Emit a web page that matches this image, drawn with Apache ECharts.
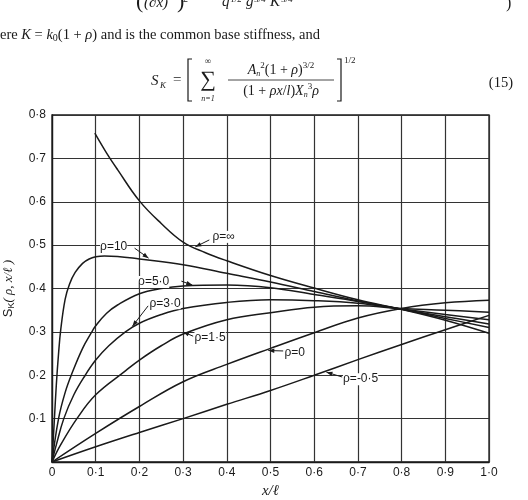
<!DOCTYPE html>
<html>
<head>
<meta charset="utf-8">
<script src="https://cdn.jsdelivr.net/npm/echarts@6.0.0/dist/echarts.min.js"></script>
<style>
  html, body { margin: 0; padding: 0; background: #fff; }
  #chart { width: 528px; height: 500px; }
</style>
</head>
<body>
<div id="chart"></div>
<script>
// tick labels
const xTickLabels = ['0', '0·1', '0·2', '0·3', '0·4', '0·5', '0·6', '0·7', '0·8', '0·9', '1·0'];
const yTickLabels = ['', '0·1', '0·2', '0·3', '0·4', '0·5', '0·6', '0·7', '0·8'];

// S_K(rho, x/l) curves, [x/l, S_K]
const rhoInf = [[0.098, 0.758], [0.125, 0.712], [0.15, 0.674], [0.2, 0.602], [0.25, 0.55], [0.3, 0.507],
  [0.35, 0.483], [0.4, 0.464], [0.5, 0.43], [0.6, 0.401], [0.7, 0.374], [0.8, 0.352], [0.9, 0.327], [1.0, 0.297]];
const rho10 = [[0, 0], [0.005, 0.09], [0.01, 0.18], [0.015, 0.25], [0.02, 0.305], [0.03, 0.375], [0.04, 0.41],
  [0.053, 0.437], [0.07, 0.458], [0.085, 0.468], [0.1, 0.473], [0.12, 0.475], [0.15, 0.474], [0.2, 0.468],
  [0.3, 0.455], [0.4, 0.435], [0.5, 0.415], [0.6, 0.393], [0.7, 0.371], [0.8, 0.352], [0.9, 0.331], [1.0, 0.31]];
const rho5 = [[0, 0], [0.015, 0.1], [0.03, 0.16], [0.046, 0.205], [0.07, 0.262], [0.09, 0.298], [0.1, 0.314],
  [0.125, 0.343], [0.15, 0.362], [0.2, 0.388], [0.25, 0.4], [0.3, 0.406], [0.4, 0.408], [0.5, 0.402],
  [0.6, 0.386], [0.7, 0.37], [0.8, 0.352], [0.9, 0.335], [1.0, 0.318]];
const rho3 = [[0, 0], [0.01, 0.04], [0.027, 0.1], [0.05, 0.155], [0.076, 0.2], [0.1, 0.235], [0.13, 0.268],
  [0.168, 0.3], [0.2, 0.32], [0.25, 0.34], [0.3, 0.354], [0.4, 0.368], [0.5, 0.374], [0.6, 0.372],
  [0.7, 0.366], [0.8, 0.353], [0.9, 0.34], [1.0, 0.328]];
const rho15 = [[0, 0], [0.02, 0.04], [0.057, 0.1], [0.1, 0.155], [0.168, 0.21], [0.2, 0.235], [0.25, 0.268],
  [0.3, 0.295], [0.4, 0.328], [0.5, 0.344], [0.6, 0.357], [0.7, 0.36], [0.8, 0.354], [0.9, 0.35], [1.0, 0.345]];
const rho0 = [[0, 0], [0.1, 0.066], [0.2, 0.128], [0.3, 0.185], [0.4, 0.225], [0.5, 0.262], [0.6, 0.298],
  [0.7, 0.332], [0.8, 0.354], [0.9, 0.367], [1.0, 0.373]];
const rhoMinus05 = [[0, 0], [0.1, 0.035], [0.2, 0.068], [0.3, 0.1], [0.4, 0.133], [0.5, 0.165], [0.6, 0.2],
  [0.7, 0.236], [0.8, 0.271], [0.9, 0.305], [1.0, 0.338]];

const curves = [
  { name: 'ρ=∞', data: rhoInf },
  { name: 'ρ=10', data: rho10 },
  { name: 'ρ=5·0', data: rho5 },
  { name: 'ρ=3·0', data: rho3 },
  { name: 'ρ=1·5', data: rho15 },
  { name: 'ρ=0', data: rho0 },
  { name: 'ρ=-0·5', data: rhoMinus05 }
];

// curve labels: text anchor (left/middle), leader start, arrow tip -- in data units
const curveLabels = [
  { text: 'ρ=∞', at: [0.367, 0.519], from: [0.36, 0.512], tip: [0.328, 0.496] },
  { text: 'ρ=10', at: [0.11, 0.496], from: [0.189, 0.493], tip: [0.221, 0.47] },
  { text: 'ρ=5·0', at: [0.197, 0.415], from: [0.296, 0.417], tip: [0.321, 0.408] },
  { text: 'ρ=3·0', at: [0.223, 0.366], from: [0.22, 0.36], tip: [0.184, 0.313] },
  { text: 'ρ=1·5', at: [0.326, 0.286], from: [0.323, 0.29], tip: [0.3, 0.3] },
  { text: 'ρ=0', at: [0.532, 0.251], from: [0.529, 0.256], tip: [0.495, 0.257] },
  { text: 'ρ=-0·5', at: [0.666, 0.191], from: [0.664, 0.196], tip: [0.628, 0.207] }
];

const ink = '#1a1a1a';
const serif = '"Liberation Serif", "DejaVu Serif", serif';
const sans = '"Liberation Sans", Arial, sans-serif';

// equation text above the figure (page text, fixed pixel positions)
const pageText = [
  { type: 'text', x: 136, y: 13, style: { text: '(', font: '22px ' + serif, fill: ink, verticalAlign: 'bottom' } },
  { type: 'text', x: 144, y: 11, style: { text: '(∂x)', font: 'italic 15px ' + serif, fill: ink, verticalAlign: 'bottom' } },
  { type: 'text', x: 177, y: 13, style: { text: ')', font: '22px ' + serif, fill: ink, verticalAlign: 'bottom' } },
  { type: 'text', x: 183, y: 4, style: { text: '2', font: '10px ' + serif, fill: ink, verticalAlign: 'bottom' } },
  { type: 'text', x: 222, y: 10, style: { text: 'q', font: 'italic 15px ' + serif, fill: ink, verticalAlign: 'bottom' } },
  { type: 'text', x: 230, y: 4, style: { text: '1/2', font: '9px ' + serif, fill: ink, verticalAlign: 'bottom' } },
  { type: 'text', x: 246, y: 10, style: { text: 'g', font: 'italic 15px ' + serif, fill: ink, verticalAlign: 'bottom' } },
  { type: 'text', x: 254, y: 4, style: { text: '3/4', font: '9px ' + serif, fill: ink, verticalAlign: 'bottom' } },
  { type: 'text', x: 270, y: 10, style: { text: 'K', font: 'italic 15px ' + serif, fill: ink, verticalAlign: 'bottom' } },
  { type: 'text', x: 281, y: 4, style: { text: '3/4', font: '9px ' + serif, fill: ink, verticalAlign: 'bottom' } },
  { type: 'text', x: 506, y: 12, style: { text: ')', font: '16px ' + serif, fill: ink, verticalAlign: 'bottom' } },

  {
    type: 'text', x: 0, y: 35,
    style: {
      text: '{t|ere }{i|K}{t| = }{i|k}{s|0}{t|(1 + }{i|ρ}{t|) and is the common base stiffness, and}',
      fill: ink, verticalAlign: 'middle',
      rich: {
        t: { font: '14.5px ' + serif, fill: ink },
        i: { font: 'italic 14.5px ' + serif, fill: ink },
        s: { font: '10px ' + serif, fill: ink, padding: [6, 0, 0, 0] }
      }
    }
  },

  { type: 'text', x: 151, y: 81, style: { text: 'S', font: 'italic 15px ' + serif, fill: ink, verticalAlign: 'middle' } },
  { type: 'text', x: 160, y: 86, style: { text: 'K', font: 'italic 9px ' + serif, fill: ink, verticalAlign: 'middle' } },
  { type: 'text', x: 173, y: 80, style: { text: '=', font: '15px ' + serif, fill: ink, verticalAlign: 'middle' } },
  // square brackets drawn as thin strokes, like the typeset delimiters
  { type: 'polyline', shape: { points: [[192, 59], [188, 59], [188, 101], [192, 101]] }, style: { stroke: ink, lineWidth: 1.2, fill: null } },
  { type: 'polyline', shape: { points: [[337, 59], [341, 59], [341, 101], [337, 101]] }, style: { stroke: ink, lineWidth: 1.2, fill: null } },
  { type: 'text', x: 208, y: 62, style: { text: '∞', font: '9px ' + serif, fill: ink, align: 'center', verticalAlign: 'middle' } },
  { type: 'text', x: 208, y: 80, style: { text: '∑', font: '22px ' + serif, fill: ink, align: 'center', verticalAlign: 'middle' } },
  { type: 'text', x: 208, y: 99, style: { text: 'n=1', font: 'italic 8px ' + serif, fill: ink, align: 'center', verticalAlign: 'middle' } },
  {
    type: 'text', x: 281, y: 70,
    style: {
      text: '{i|A}{s|n}{p|2}{t|(1 + }{i|ρ}{t|)}{p|3/2}',
      fill: ink, align: 'center', verticalAlign: 'middle',
      rich: {
        t: { font: '14px ' + serif, fill: ink },
        i: { font: 'italic 14px ' + serif, fill: ink },
        s: { font: 'italic 8px ' + serif, fill: ink, padding: [8, 0, 0, 0] },
        p: { font: '9px ' + serif, fill: ink, padding: [0, 0, 8, 0] }
      }
    }
  },
  { type: 'line', shape: { x1: 228, y1: 80, x2: 334, y2: 80 }, style: { stroke: ink, lineWidth: 0.8 } },
  {
    type: 'text', x: 281, y: 91,
    style: {
      text: '{t|(1 + }{i|ρx}{t|/}{i|l}{t|)}{i|X}{s|n}{p|3}{i|ρ}',
      fill: ink, align: 'center', verticalAlign: 'middle',
      rich: {
        t: { font: '14px ' + serif, fill: ink },
        i: { font: 'italic 14px ' + serif, fill: ink },
        s: { font: 'italic 8px ' + serif, fill: ink, padding: [8, 0, 0, 0] },
        p: { font: '9px ' + serif, fill: ink, padding: [0, 0, 8, 0] }
      }
    }
  },
  { type: 'text', x: 344, y: 61, style: { text: '1/2', font: '9px ' + serif, fill: ink, verticalAlign: 'middle' } },
  { type: 'text', x: 513, y: 83, style: { text: '(15)', font: '14.5px ' + serif, fill: ink, align: 'right', verticalAlign: 'middle' } }
];

const option = {
  animation: false,
  backgroundColor: '#fff',
  grid: {
    left: 52, right: 39, top: 115, bottom: 38,
    outerBoundsMode: 'none',
    containLabel: false,
    show: true, borderColor: ink, borderWidth: 1.3, backgroundColor: 'transparent'
  },
  xAxis: {
    type: 'value',
    min: 0, max: 1, interval: 0.1,
    name: 'x/ℓ',
    nameLocation: 'middle',
    nameGap: 18,
    nameTextStyle: { fontFamily: serif, fontStyle: 'italic', fontSize: 15, color: ink },
    axisLine: { lineStyle: { color: ink, width: 1.3 } },
    axisTick: { show: false },
    axisLabel: {
      margin: 5, color: ink, fontFamily: sans, fontSize: 12,
      formatter: v => xTickLabels[Math.round(v * 10)]
    },
    splitLine: { lineStyle: { color: '#333', width: 1.2 } }
  },
  yAxis: {
    type: 'value',
    min: 0, max: 0.8, interval: 0.1,
    name: '{i|S}{s|K}{t|( ρ, x/ℓ )}',
    nameLocation: 'middle',
    nameRotate: 90,
    nameGap: 36,
    nameTextStyle: {
      color: ink,
      rich: {
        i: { fontFamily: sans, fontSize: 13, color: ink },
        s: { fontFamily: sans, fontSize: 9, color: ink, padding: [6, 0, 0, 0] },
        t: { fontFamily: serif, fontStyle: 'italic', fontSize: 13, color: ink }
      }
    },
    axisLine: { lineStyle: { color: ink, width: 1.3 } },
    axisTick: { show: false },
    axisLabel: {
      margin: 6, color: ink, fontFamily: sans, fontSize: 12,
      formatter: v => yTickLabels[Math.round(v * 10)]
    },
    splitLine: { lineStyle: { color: '#333', width: 1.2 } }
  },
  series: curves.map(c => ({
    name: c.name,
    type: 'line',
    data: c.data,
    showSymbol: false,
    smooth: 0.4,
    lineStyle: { color: ink, width: 1.5 },
    z: 3
  })),
  graphic: pageText
};

const chart = echarts.init(document.getElementById('chart'));
chart.setOption(option);

// curve labels with leader arrows, placed through the grid's own scales
const labelGraphics = [];
curveLabels.forEach(l => {
  const p = chart.convertToPixel({ gridIndex: 0 }, l.at);
  const a = chart.convertToPixel({ gridIndex: 0 }, l.from);
  const b = chart.convertToPixel({ gridIndex: 0 }, l.tip);
  labelGraphics.push({
    type: 'text', x: p[0], y: p[1], z: 10,
    style: { text: l.text, font: '12px ' + sans, fill: ink, verticalAlign: 'middle', backgroundColor: '#fff' }
  });
  labelGraphics.push({
    type: 'line', z: 10,
    shape: { x1: a[0], y1: a[1], x2: b[0], y2: b[1] },
    style: { stroke: ink, lineWidth: 1 }
  });
  const ang = Math.atan2(b[1] - a[1], b[0] - a[0]);
  const len = 6, half = 2.2;
  const bx = b[0] - len * Math.cos(ang), by = b[1] - len * Math.sin(ang);
  labelGraphics.push({
    type: 'polygon', z: 10,
    shape: {
      points: [
        [b[0], b[1]],
        [bx + half * Math.sin(ang), by - half * Math.cos(ang)],
        [bx - half * Math.sin(ang), by + half * Math.cos(ang)]
      ]
    },
    style: { fill: ink }
  });
});

chart.setOption({ graphic: pageText.concat(labelGraphics) });
window.addEventListener('resize', () => chart.resize());
</script>
</body>
</html>
